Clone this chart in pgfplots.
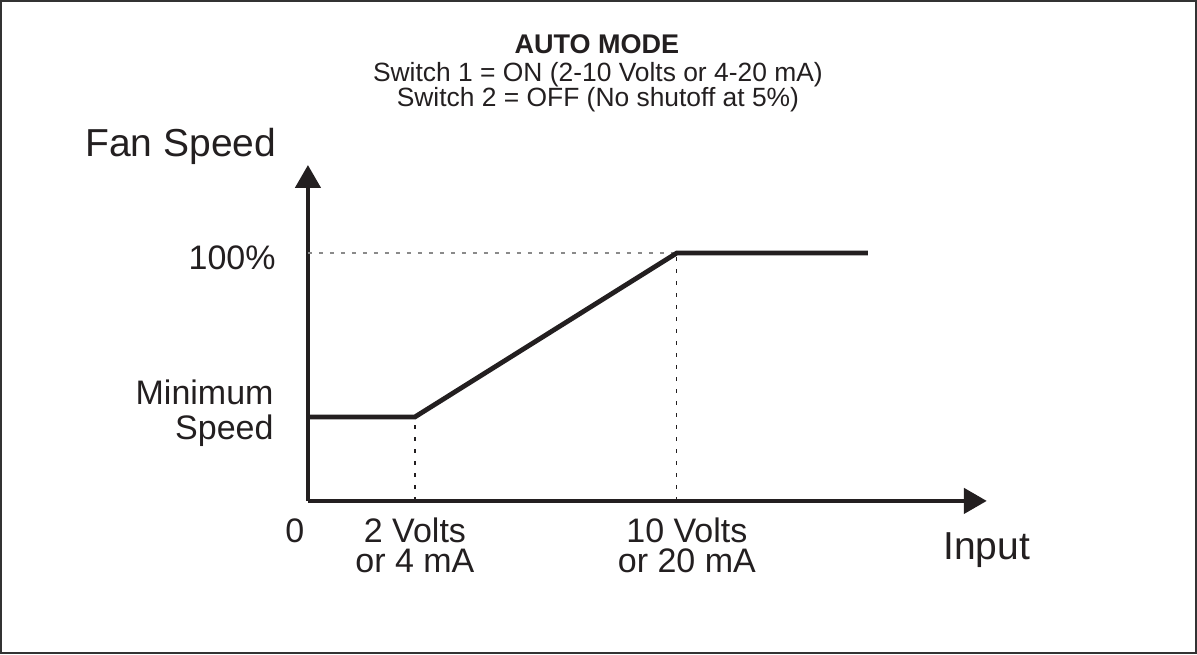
\documentclass[border=0pt]{standalone}
\usepackage{pgfplots}
\pgfplotsset{compat=1.18}
\usepackage{fontspec}
\setmainfont{Liberation Sans}
\usetikzlibrary{arrows.meta}
\definecolor{ink}{HTML}{231F20}
\definecolor{framec}{HTML}{333333}
\definecolor{dotgray}{HTML}{8A8A8A}
\begin{document}
\begin{tikzpicture}
\begin{axis}[
  x=0.5pt, y=0.5pt,
  xmin=0, xmax=679, ymin=0, ymax=336,
  axis lines=left,
  axis line style={ink, line width=2.3pt, -{Triangle[length=11.5pt,width=12.5pt]}},
  xtick=\empty, ytick=\empty,
  clip=false,
]
% frame
\draw[framec, line width=1.2pt] (axis cs:-306.8,-152) rectangle (axis cs:888,499.8);
% guide lines
\addplot[dotgray, line width=0.6pt, dash pattern=on 2pt off 3.5pt] coordinates {(0,248) (369,248)};
\addplot[ink, line width=0.6pt, dash pattern=on 2pt off 4pt] coordinates {(107,0) (107,84)};
\addplot[ink, line width=0.6pt, dash pattern=on 2pt off 4pt] coordinates {(369,0) (369,248)};
% response curve
\addplot[ink, line width=2.4pt] coordinates {(0,84) (107,84) (369,248) (560,248)};
% titles
\node[anchor=base, text=ink, font=\fontsize{13.5}{16}\selectfont\bfseries] at (axis cs:289,447) {AUTO MODE};
\node[anchor=base, text=ink, font=\fontsize{13.2}{16}\selectfont] at (axis cs:290,419) {Switch 1 = ON (2-10 Volts or 4-20 mA)};
\node[anchor=base, text=ink, font=\fontsize{13.2}{16}\selectfont] at (axis cs:290,394) {Switch 2 = OFF (No shutoff at 5\%)};
% axis labels
\node[anchor=base west, text=ink, font=\fontsize{19.5}{23}\selectfont, inner sep=0pt] at (axis cs:-223,344) {Fan Speed};
\node[anchor=base west, text=ink, font=\fontsize{19.5}{23}\selectfont, inner sep=0pt] at (axis cs:635,-59) {Input};
% y labels
\node[anchor=base east, text=ink, font=\fontsize{17}{20}\selectfont, inner sep=0pt] at (axis cs:-32,231) {100\%};
\node[anchor=base east, align=right, text=ink, font=\fontsize{17}{17.5}\selectfont, inner sep=0pt] at (axis cs:-34,61) {Minimum\\Speed};
% x labels
\node[anchor=base, text=ink, font=\fontsize{17}{20}\selectfont, inner sep=0pt] at (axis cs:-13,-42) {0};
\node[anchor=base, align=center, text=ink, font=\fontsize{17}{15}\selectfont, inner sep=0pt] at (axis cs:107,-72) {2 Volts\\or 4 mA};
\node[anchor=base, align=center, text=ink, font=\fontsize{17}{15}\selectfont, inner sep=0pt] at (axis cs:379,-72) {10 Volts\\or 20 mA};
\end{axis}
\end{tikzpicture}
\end{document}
